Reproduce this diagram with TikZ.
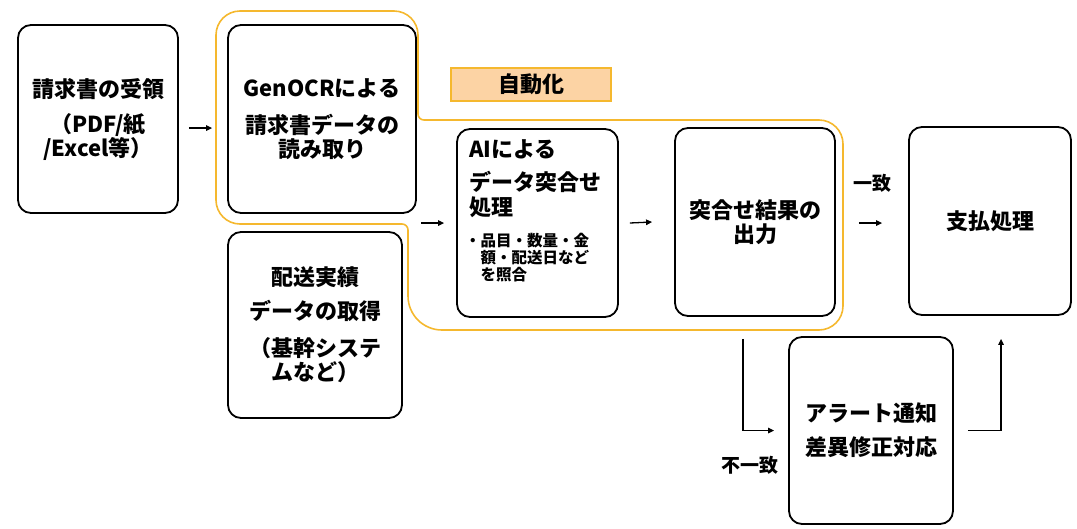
\documentclass[tikz,border=0pt]{standalone}
\usepackage{fontspec}
\setmainfont{Noto Sans CJK JP}
\usetikzlibrary{arrows.meta}
\definecolor{autoline}{HTML}{F5B82E}
\definecolor{autofill}{HTML}{FCD3A4}
\tikzset{
  box/.style={draw=black, line width=1.8pt, rounded corners=13pt, inner sep=0pt, align=center,
    font=\bfseries\fontsize{22}{24}\selectfont},
  txt/.style={inner sep=0pt, align=left, font=\bfseries\fontsize{22}{24}\selectfont},
  small/.style={inner sep=0pt, align=left, font=\bfseries\fontsize{15.5}{17}\selectfont},
  arr/.style={line width=1.3pt, -{Triangle[length=6pt,width=5.5pt]}},
  lbl/.style={inner sep=0pt, font=\bfseries\fontsize{19}{21}\selectfont},
  autopath/.style={draw=autoline, line width=1.6pt},
  autotag/.style={draw=autoline, fill=autofill, line width=1.6pt, inner sep=0pt,
    minimum width=160pt, minimum height=33pt, font=\bfseries\fontsize{22}{24}\selectfont},
}
\begin{document}
\begin{tikzpicture}[x=1pt,y=-1pt]
\useasboundingbox (0,0) rectangle (1077,528);

% automation outline
\draw[autopath] (216,120) [rounded corners=24pt] -- (216,11) -- (418,11) [rounded corners=6pt] -- (418,120)
  [rounded corners=24pt] -- (843,120) -- (843,330) [rounded corners=34pt] -- (408,330)
  [rounded corners=6pt] -- (408,224) [rounded corners=24pt] -- (216,224) [sharp corners] -- cycle;

\node[autotag] (tag) at (531,84.5) {自動化};

% boxes
\node[box, minimum width=160pt, minimum height=188pt] (recv) at (98,119)
  {請求書の受領\\[11pt]（PDF/紙\\/Excel等）};
\node[box, minimum width=188pt, minimum height=188pt] (ocr) at (322,119)
  {GenOCRによる\\[13pt]請求書データの\\読み取り};
\node[box, minimum width=174pt, minimum height=186pt] (ship) at (315,325)
  {配送実績\\[10pt]データの取得\\[13pt]（基幹システ\\ムなど）};
\node[box, minimum width=161pt, minimum height=188pt] (ai) at (537.5,223) {};
\node[txt, anchor=north west] (aitxt) at (469,139)
  {AIによる\\[9pt]データ突合せ\\[1pt]処理};
\node[small, anchor=north west] (aisub) at (465,232.5)
  {・品目・数量・金\\\hspace*{15.5pt}額・配送日など\\\hspace*{15.5pt}を照合};
\node[box, minimum width=160pt, minimum height=188pt] (res) at (755,222)
  {突合せ結果の\\出力};
\node[box, minimum width=162pt, minimum height=188pt] (pay) at (990,221)
  {支払処理};
\node[box, minimum width=164pt, minimum height=187pt] (alert) at (871,430.5)
  {アラート通知\\[10pt]差異修正対応};

% connectors
\draw[arr] ([shift={(10,9)}]recv.east) -- ([shift={(-15,9)}]ocr.west);
\draw[arr] ([xshift=-35pt]ai.west) -- ([xshift=-12pt]ai.west);
\draw[arr] ([xshift=11pt]ai.east) -- ([xshift=-22pt]res.west);
\draw[arr] ([shift={(23,1)}]res.east) -- ([shift={(-26,2)}]pay.west);
\draw[arr] ([shift={(-12,22)}]res.south) |- ([xshift=-14pt]alert.west);
\draw[arr] ([xshift=14pt]alert.east) -| ([shift={(11,23)}]pay.south);

\node[lbl] (ok) at (872,183) {一致};
\node[lbl] (ng) at (750,465) {不一致};
\end{tikzpicture}
\end{document}
